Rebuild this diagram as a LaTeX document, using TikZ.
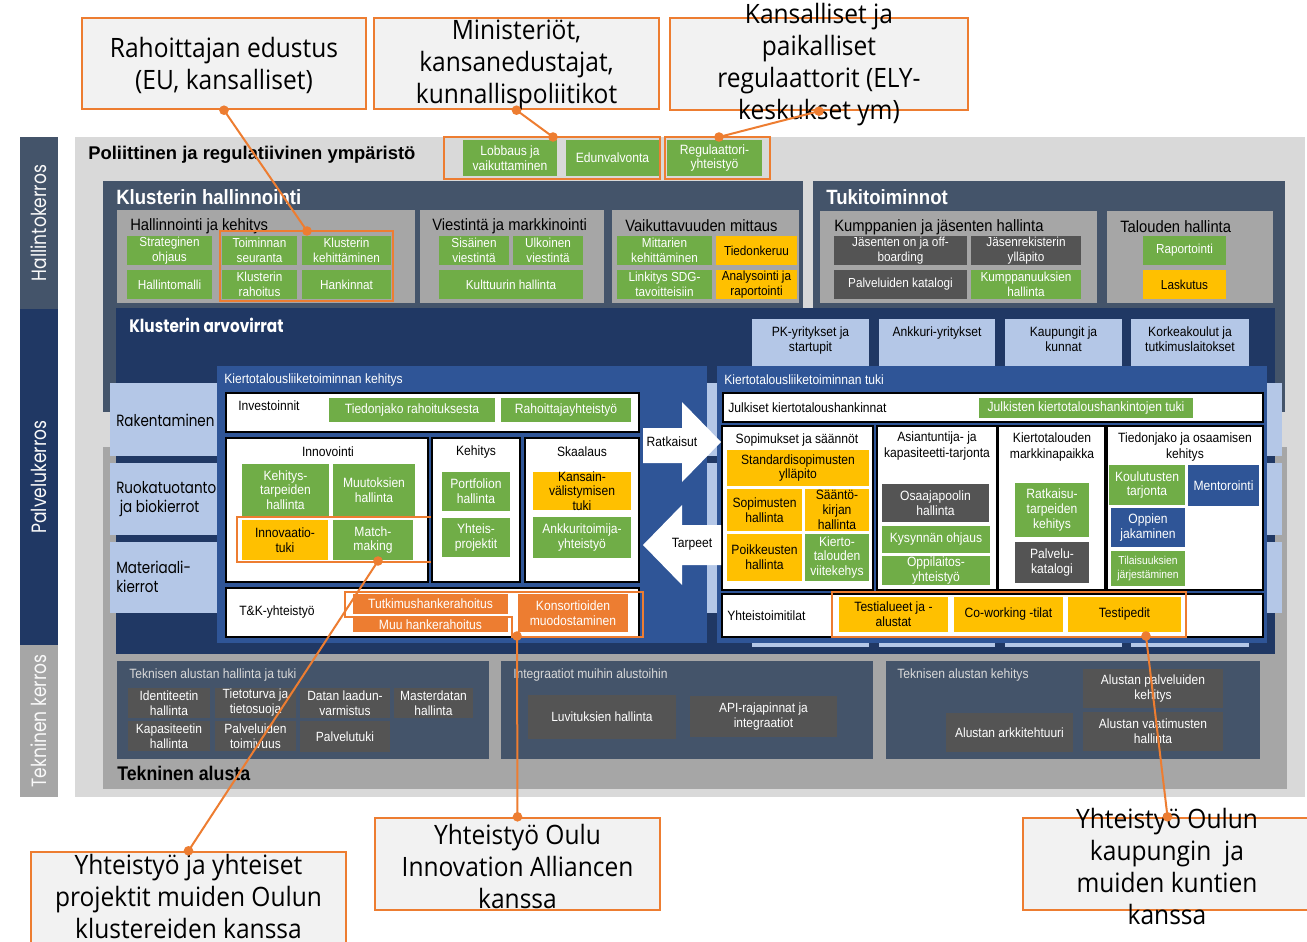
\documentclass[tikz,border=0pt]{standalone}
\usepackage{fontspec}
\setmainfont{Liberation Sans}
\newfontfamily\narrowf[FakeStretch=0.9]{Liberation Sans}
\newfontfamily\calf[FakeStretch=0.92]{Open Sans}
\newfontfamily\geof[FakeStretch=0.83]{Poppins}
\newfontfamily\geobf[FakeStretch=0.85]{Poppins}
\definecolor{cgreen}{HTML}{70AD47}
\definecolor{cyellow}{HTML}{FFC000}
\definecolor{cdark}{HTML}{545454}
\definecolor{cslate}{HTML}{44546A}
\definecolor{cnavy}{HTML}{203864}
\definecolor{cmblue}{HTML}{2F5597}
\definecolor{clblue}{HTML}{B4C7E7}
\definecolor{cgray}{HTML}{A6A6A6}
\definecolor{clgray}{HTML}{D9D9D9}
\definecolor{corange}{HTML}{ED7D31}
\definecolor{cfill}{HTML}{F2F2F2}
\newcommand\fH{\narrowf\fontsize{9.8}{11.2}\selectfont}
\newcommand\fV{\narrowf\fontsize{10.1}{11}\selectfont}
\newcommand\fT{\narrowf\fontsize{10}{11.2}\selectfont}
\newcommand\fSub{\narrowf\fontsize{12.3}{14}\selectfont}
\newcommand\fSm{\narrowf\fontsize{10.1}{11.3}\selectfont}
% box macro: name, style, x1, y1, x2, y2, text
\newcommand\bx[7]{%
  \pgfmathsetmacro\bxw{(#5-#3)*0.75}%
  \pgfmathsetmacro\bxh{(#6-#4)*0.75}%
  \node[#2, minimum width=\bxw pt, minimum height=\bxh pt, inner sep=0pt] (#1) at ({(#3+#5)/2},{(#4+#6)/2}) {};
  \node[#2, fill=none, draw=none, inner sep=0pt, align=center] at (#1.center) {#7};}
\begin{document}
\begin{tikzpicture}[x=0.75pt,y=-0.75pt,
  gbox/.style={fill=cgreen,text=white},
  ybox/.style={fill=cyellow,text=black},
  dbox/.style={fill=cdark,text=white},
  bbox/.style={fill=cmblue,text=white},
  obox/.style={fill=corange,text=white},
  wbox/.style={fill=white,draw=black,line width=1.5pt},
  pgray/.style={fill=cgray},
  pslate/.style={fill=cslate},
  plblue/.style={fill=clblue},
  pmblue/.style={fill=cmblue},
  outl/.style={draw=corange,line width=1.8pt},
  callbox/.style={fill=cfill,draw=corange,line width=1.8pt},
  calltext/.style={font=\calf\fontsize{20}{24}\selectfont,text=black,align=center,inner sep=0pt},
  conn/.style={draw=corange,line width=1.5pt},
  ttl/.style={anchor=west,inner sep=0pt},
  layer/.style={rotate=90,font=\geof\fontsize{15.5}{17}\selectfont,text=white!85!clgray,inner sep=0pt},
  rowlbl/.style={anchor=west,inner sep=0pt,align=left,font=\geof\fontsize{12.2}{14.5}\selectfont,text=black},
]
\useasboundingbox (0,0) rectangle (1307,942);
% background and layer bars
\fill[clgray] (75,137) rectangle (1305,797);
\bx{lay1}{pslate}{20}{137}{58}{309}{}
\bx{lay2}{fill=cnavy}{20}{309}{58}{645}{}
\bx{lay3}{pgray}{20}{645}{58}{797}{}
\node[layer] (lay1t) at (lay1.center) {Hallintokerros};
\node[layer] (lay2t) at (lay2.center) {Palvelukerros};
\node[layer] (lay3t) at (lay3.center) {Tekninen kerros};
% political
\node[ttl,font=\bfseries\fontsize{13.8}{15}\selectfont] (pol) at (88,155) {Poliittinen ja regulatiivinen ympäristö};
\bx{lob}{gbox,font=\fV}{463}{140}{557}{176}{Lobbaus ja\\vaikuttaminen}
\bx{edu}{gbox,font=\fV}{566}{140}{659}{176}{Edunvalvonta}
\bx{reg}{gbox,font=\fV}{667}{140}{762}{176}{Regulaattori-\\yhteistyö}
\bx{olob}{outl}{444}{137}{660}{179}{}
\bx{oreg}{outl}{665}{137}{770}{179}{}
% big panels
\fill[cgray] (103,447) rectangle (1287,789);
\bx{hall}{pslate}{103}{181}{803}{412}{}
\bx{tuki}{pslate}{813}{181}{1285}{412}{}
\node[ttl,text=white,font=\narrowf\bfseries\fontsize{15.5}{17}\selectfont] (hallt) at (116,197) {Klusterin hallinnointi};
\node[ttl,text=white,font=\narrowf\bfseries\fontsize{15.5}{17}\selectfont] (tukit) at (826,197) {Tukitoiminnot};
% sub panels
\bx{hk}{pgray}{117}{210}{415}{303}{}
\bx{vm}{pgray}{420}{210}{604}{303}{}
\bx{vam}{pgray}{612}{210}{799}{303}{}
\bx{kj}{pgray}{820}{211}{1097}{303}{}
\bx{th}{pgray}{1107}{211}{1273}{303}{}
\node[ttl,font=\fSub] (hkt) at (130,226) {Hallinnointi ja kehitys};
\node[ttl,font=\fSub] (vmt) at (432,226) {Viestintä ja markkinointi};
\node[ttl,font=\fSub] (vamt) at (625,226) {Vaikuttavuuden mittaus};
\node[ttl,font=\fSub] (kjt) at (834,227) {Kumppanien ja jäsenten hallinta};
\node[ttl,font=\fSub] (tht) at (1120,227) {Talouden hallinta};
\bx{h1}{gbox,font=\fH}{127}{236}{212}{265}{Strateginen\\ohjaus}
\bx{h2}{gbox,font=\fH}{222}{236}{297}{265}{Toiminnan\\seuranta}
\bx{h3}{gbox,font=\fH}{302}{236}{391}{265}{Klusterin\\kehittäminen}
\bx{h4}{gbox,font=\fH}{127}{270}{212}{299}{Hallintomalli}
\bx{h5}{gbox,font=\fH}{222}{270}{297}{299}{Klusterin\\rahoitus}
\bx{h6}{gbox,font=\fH}{302}{270}{391}{299}{Hankinnat}
\bx{oh}{outl}{220}{231}{393}{301}{}
\bx{v1}{gbox,font=\fH}{439}{236}{509}{265}{Sisäinen\\viestintä}
\bx{v2}{gbox,font=\fH}{513}{236}{583}{265}{Ulkoinen\\viestintä}
\bx{v3}{gbox,font=\fH}{439}{270}{583}{299}{Kulttuurin hallinta}
\bx{m1}{gbox,font=\fH}{617}{236}{712}{265}{Mittarien\\kehittäminen}
\bx{m2}{ybox,font=\fH}{716}{236}{797}{265}{Tiedonkeruu}
\bx{m3}{gbox,font=\fH}{617}{270}{712}{299}{Linkitys SDG-\\tavoitteisiin}
\bx{m4}{ybox,font=\fH}{716}{270}{797}{299}{Analysointi ja\\raportointi}
\bx{k1}{dbox,font=\fH}{834}{236}{967}{265}{Jäsenten on ja off-\\boarding}
\bx{k2}{dbox,font=\fH}{971}{236}{1081}{265}{Jäsenrekisterin\\ylläpito}
\bx{k3}{dbox,font=\fH}{834}{270}{967}{299}{Palveluiden katalogi}
\bx{k4}{gbox,font=\fH}{971}{270}{1081}{299}{Kumppanuuksien\\hallinta}
\bx{t1}{gbox,font=\fH}{1143}{236}{1226}{265}{Raportointi}
\bx{t2}{ybox,font=\fH}{1143}{270}{1226}{299}{Laskutus}
% value streams
\bx{arvo}{fill=cnavy}{116}{308}{1275}{654}{}
\node[ttl,text=white,font=\geobf\bfseries\fontsize{13.5}{15}\selectfont] (arvot) at (129,325) {Klusterin arvovirrat};
\bx{c1}{plblue}{752}{319}{869}{647}{}
\bx{c2}{plblue}{879}{319}{995}{647}{}
\bx{c3}{plblue}{1005}{319}{1122}{647}{}
\bx{c4}{plblue}{1131}{319}{1249}{647}{}
\node[anchor=north,align=center,inner sep=0pt,font=\fSm] (c1t) at (810.5,326) {PK-yritykset ja\\startupit};
\node[anchor=north,align=center,inner sep=0pt,font=\fSm] (c2t) at (937,326) {Ankkuri-yritykset};
\node[anchor=north,align=center,inner sep=0pt,font=\fSm] (c3t) at (1063.5,326) {Kaupungit ja\\kunnat};
\node[anchor=north,align=center,inner sep=0pt,font=\fSm] (c4t) at (1190,326) {Korkeakoulut ja\\tutkimuslaitokset};
\bx{r1}{plblue}{110}{383}{1282}{456}{}
\bx{r2}{plblue}{110}{463}{1282}{535}{}
\bx{r3}{plblue}{110}{542}{1282}{613}{}
\node[rowlbl] (r1t) at (116,420) {Rakentaminen};
\node[rowlbl] (r2t) at (116,499) {Ruokatuotanto\\\ ja biokierrot};
\node[rowlbl] (r3t) at (116,577) {Materiaali-\\kierrot};
% development panel
\bx{kehp}{pmblue}{217}{366}{707}{643}{}
\node[ttl,text=white,font=\fSm] (kehpt) at (224,380) {Kiertotalousliiketoiminnan kehitys};
\bx{inv}{wbox}{226}{393}{639}{432}{}
\node[ttl,font=\fSm] (invt) at (238,406) {Investoinnit};
\bx{inv1}{gbox,font=\fV}{329}{398}{495}{422}{Tiedonjako rahoituksesta}
\bx{inv2}{gbox,font=\fV}{501}{398}{631}{422}{Rahoittajayhteistyö}
\bx{innov}{wbox}{226}{438}{428}{582}{}
\node[font=\fSm,inner sep=0pt] (innovt) at (328,452) {Innovointi};
\bx{i1}{gbox,font=\fV}{242}{464}{329}{516}{Kehitys-\\tarpeiden\\hallinta}
\bx{i2}{gbox,font=\fV}{333}{464}{415}{516}{Muutoksien\\hallinta}
\bx{i3}{ybox,font=\fV}{242}{520}{328}{560}{Innovaatio-\\tuki}
\bx{i4}{gbox,font=\fV}{333}{520}{413}{560}{Match-\\making}
\bx{oi}{outl}{237}{517}{517}{562}{}
\bx{keh}{wbox}{432}{438}{520}{582}{}
\node[font=\fSm,inner sep=0pt] (keht) at (476,452) {Kehitys};
\bx{e1}{gbox,font=\fV}{442}{472}{510}{511}{Portfolion\\hallinta}
\bx{e2}{gbox,font=\fV}{442}{518}{510}{557}{Yhteis-\\projektit}
\bx{ska}{wbox}{525}{438}{639}{582}{}
\node[font=\fSm,inner sep=0pt] (skat) at (582,452) {Skaalaus};
\bx{s1}{ybox,font=\fV}{533}{472}{631}{510}{Kansain-\\välistymisen\\tuki}
\bx{s2}{gbox,font=\fV}{533}{517}{631}{558}{Ankkuritoimija-\\yhteistyö}
\bx{tk}{wbox}{226}{588}{639}{637}{}
\node[ttl,font=\fSm] (tkt) at (239,612) {T\&K-yhteistyö};
\bx{tk1}{obox,font=\fV}{353}{594}{508}{614}{Tutkimushankerahoitus}
\bx{tk2}{obox,font=\fV}{353}{617}{508}{632}{Muu hankerahoitus}
\bx{tk3}{obox,font=\fV}{518}{594}{628}{632}{Konsortioiden\\muodostaminen}
\draw[outl] (345,592) -- (643,592) -- (643,637) -- (512,637) -- (512,617) -- (345,617) -- cycle;
\coordinate (tkdot) at (517,636);
% support panel
\bx{tukp}{pmblue}{717}{366}{1267}{643}{}
\node[ttl,text=white,font=\fSm] (tukpt) at (724,380) {Kiertotalousliiketoiminnan tuki};
\bx{jul}{wbox}{723}{393}{1263}{422}{}
\node[ttl,font=\fSm] (jult) at (728,408) {Julkiset kiertotaloushankinnat};
\bx{jul1}{gbox,font=\fV}{979}{398}{1193}{418}{Julkisten kiertotaloushankintojen tuki}
\bx{sop}{wbox}{722}{426}{873}{590}{}
\node[font=\fSm,inner sep=0pt] (sopt) at (797,440) {Sopimukset ja säännöt};
\bx{p1}{ybox,font=\fV}{727}{450}{869}{486}{Standardisopimusten\\ylläpito}
\bx{p2}{ybox,font=\fV}{727}{489}{802}{531}{Sopimusten\\hallinta}
\bx{p3}{ybox,font=\fV}{805}{489}{869}{531}{Sääntö-\\kirjan\\hallinta}
\bx{p4}{ybox,font=\fV}{727}{534}{802}{581}{Poikkeusten\\hallinta}
\bx{p5}{gbox,font=\fV}{805}{534}{869}{581}{Kierto-\\talouden\\viitekehys}
\bx{asi}{wbox}{877}{426}{997}{590}{}
\node[font=\fSm,align=center,inner sep=0pt] (asit) at (937,446) {Asiantuntija- ja\\kapasiteetti-tarjonta};
\bx{a1}{dbox,font=\fV}{882}{484}{989}{522}{Osaajapoolin\\hallinta}
\bx{a2}{gbox,font=\fV}{882}{526}{990}{553}{Kysynnän ohjaus}
\bx{a3}{gbox,font=\fV}{882}{556}{990}{585}{Oppilaitos-\\yhteistyö}
\bx{mar}{wbox}{998}{426}{1105}{590}{}
\node[font=\fSm,align=center,inner sep=0pt] (mart) at (1052,447) {Kiertotalouden\\markkinapaikka};
\bx{mk1}{gbox,font=\fV}{1015}{483}{1089}{537}{Ratkaisu-\\tarpeiden\\kehitys}
\bx{mk2}{dbox,font=\fV}{1015}{542}{1089}{583}{Palvelu-\\katalogi}
\bx{tie}{wbox}{1107}{426}{1263}{590}{}
\node[font=\fSm,align=center,inner sep=0pt] (tiet) at (1185,447) {Tiedonjako ja osaamisen\\kehitys};
\bx{o1}{gbox,font=\fV}{1109}{465}{1185}{505}{Koulutusten\\tarjonta}
\bx{o2}{bbox,font=\fV}{1188}{465}{1259}{506}{Mentorointi}
\bx{o3}{bbox,font=\fV}{1111}{508}{1185}{547}{Oppien\\jakaminen}
\bx{o4}{gbox,font=\narrowf\fontsize{8.6}{9.8}\selectfont}{1111}{551}{1185}{586}{Tilaisuuksien\\järjestäminen}
\bx{yht}{wbox}{722}{594}{1263}{637}{}
\node[ttl,font=\fSm] (yhtt) at (727,616) {Yhteistoimitilat};
\bx{y1}{ybox,font=\fV}{839}{597}{948}{632}{Testialueet ja -\\alustat}
\bx{y2}{ybox,font=\fV}{954}{597}{1063}{632}{Co-working -tilat}
\bx{y3}{ybox,font=\fV}{1068}{597}{1181}{632}{Testipedit}
\bx{oy}{outl}{832}{592}{1186}{637}{}
\coordinate (ydot) at (1146,636);
% arrows
\fill[white] (643,428) -- (682,428) -- (682,402) -- (721,442) -- (682,482) -- (682,463) -- (643,463) -- cycle;
\node[font=\fSm,inner sep=0pt] (ratk) at (672,442) {Ratkaisut};
\fill[white] (721,525) -- (682,525) -- (682,505) -- (643,545) -- (682,585) -- (682,565) -- (721,565) -- cycle;
\node[font=\fSm,inner sep=0pt] (tarp) at (692,544) {Tarpeet};
% technical platform
\bx{te1}{pslate}{117}{661}{489}{759}{}
\node[ttl,font=\fSm,text=clgray] (te1t) at (129,675) {Teknisen alustan hallinta ja tuki};
\bx{d1}{dbox,font=\fT}{128}{688}{210}{718}{Identiteetin\\hallinta}
\bx{d2}{dbox,font=\fT}{215}{688}{296}{718}{Tietoturva ja\\tietosuoja}
\bx{d3}{dbox,font=\fT}{300}{688}{390}{718}{Datan laadun-\\varmistus}
\bx{d4}{dbox,font=\fT}{394}{688}{473}{718}{Masterdatan\\hallinta}
\bx{d5}{dbox,font=\fT}{128}{721}{210}{751}{Kapasiteetin\\hallinta}
\bx{d6}{dbox,font=\fT}{215}{721}{296}{751}{Palveluiden\\toimivuus}
\bx{d7}{dbox,font=\fT}{300}{721}{390}{752}{Palvelutuki}
\bx{te2}{pslate}{501}{661}{873}{759}{}
\node[ttl,font=\fSm,text=clgray] (te2t) at (513,675) {Integraatiot muihin alustoihin};
\bx{d8}{dbox,font=\fT}{528}{695}{676}{739}{Luvituksien hallinta}
\bx{d9}{dbox,font=\fT}{690}{696}{837}{737}{API-rajapinnat ja\\integraatiot}
\bx{te3}{pslate}{886}{661}{1260}{759}{}
\node[ttl,font=\fSm,text=clgray] (te3t) at (897,675) {Teknisen alustan kehitys};
\bx{d10}{dbox,font=\fT}{1083}{669}{1223}{708}{Alustan palveluiden\\kehitys}
\bx{d11}{dbox,font=\fT}{946}{713}{1073}{752}{Alustan arkkitehtuuri}
\bx{d12}{dbox,font=\fT}{1083}{712}{1223}{751}{Alustan vaatimusten\\hallinta}
\node[ttl,font=\narrowf\bfseries\fontsize{14.8}{16}\selectfont] (tekt) at (117,773) {Tekninen alusta};
% callouts
\bx{cal1}{callbox}{82}{18}{366}{109}{}
\node[calltext] (cal1t) at (224,65.5) {Rahoittajan edustus\\(EU, kansalliset)};
\bx{cal2}{callbox}{374}{18}{659}{109}{}
\node[calltext] (cal2t) at (516.5,65) {Ministeriöt,\\kansanedustajat,\\kunnallispoliitikot};
\bx{cal3}{callbox}{670}{18}{968}{110}{}
\node[calltext] (cal3t) at (819,65) {Kansalliset ja\\paikalliset\\regulaattorit (ELY-\\keskukset ym)};
\bx{cal4}{callbox}{31}{852}{346}{948}{}
\node[calltext] (cal4t) at (188.5,896) {Yhteistyö ja yhteiset\\projektit muiden Oulun\\klustereiden kanssa};
\bx{cal5}{callbox}{375}{818}{660}{910}{}
\node[calltext] (cal5t) at (517.5,866) {Yhteistyö Oulu\\Innovation Alliancen\\kanssa};
\bx{cal6}{callbox}{1023}{818}{1312}{910}{}
\node[calltext] (cal6t) at (1167,866) {Yhteistyö Oulun\\kaupungin\ \ ja\\muiden kuntien\\kanssa};
% connectors
\coordinate (ohdot) at (307,231);
\coordinate (lobdot) at (553,137);
\coordinate (regdot) at (719,137);
\coordinate (idot) at (378,561);
\draw[conn] (cal1.south) -- (ohdot);
\draw[conn] (cal2.south) -- (lobdot);
\draw[conn] (cal3.south) -- (regdot);
\draw[conn] (idot) -- (cal4.north);
\draw[conn] (tkdot) -- (cal5.north);
\draw[conn] (ydot) -- (cal6.north);
\foreach \p in {cal1.south,ohdot,cal2.south,lobdot,cal3.south,regdot,idot,cal4.north,tkdot,cal5.north,ydot,cal6.north}
  \fill[corange] (\p) circle (3.6pt);
\end{tikzpicture}
\end{document}
